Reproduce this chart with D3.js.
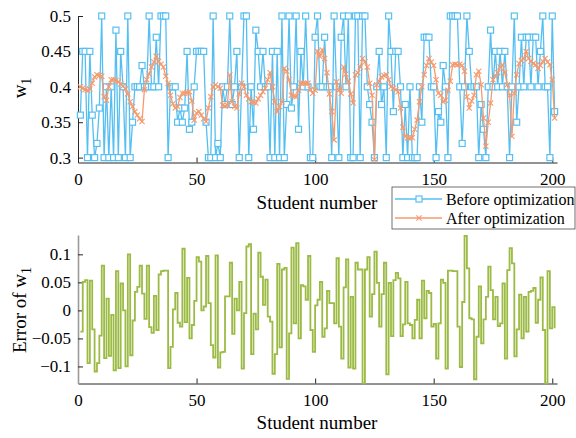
<!DOCTYPE html>
<html>
<head>
<meta charset="utf-8">
<script src="https://cdn.jsdelivr.net/npm/d3@7"></script>
<style>
  html, body { margin: 0; padding: 0; background: #fff; }
  svg text { font-family: "Liberation Serif", "Times New Roman", serif; fill: #000; }
</style>
</head>
<body>
<svg id="chart" width="576" height="438"></svg>
<script>
"use strict";

// w1 before optimization (student 1..201)
var beforeOpt = [
    0.36, 0.45, 0.45, 0.30, 0.45, 0.36, 0.30, 0.32, 0.37, 0.50,
    0.30, 0.40, 0.30, 0.40, 0.30, 0.48, 0.30, 0.45, 0.40, 0.30,
    0.50, 0.30, 0.35, 0.40, 0.40, 0.40, 0.43, 0.40, 0.40, 0.50,
    0.40, 0.40, 0.47, 0.40, 0.50, 0.50, 0.50, 0.30, 0.40, 0.40,
    0.40, 0.35, 0.37, 0.35, 0.37, 0.45, 0.34, 0.35, 0.40, 0.45,
    0.45, 0.45, 0.45, 0.35, 0.30, 0.30, 0.50, 0.30, 0.32, 0.30,
    0.40, 0.375, 0.40, 0.50, 0.375, 0.40, 0.45, 0.30, 0.40, 0.50,
    0.50, 0.30, 0.40, 0.34, 0.48, 0.45, 0.40, 0.45, 0.40, 0.40,
    0.30, 0.45, 0.30, 0.45, 0.30, 0.50, 0.30, 0.375, 0.50, 0.37,
    0.40, 0.50, 0.34, 0.45, 0.40, 0.50, 0.40, 0.30, 0.30, 0.47,
    0.50, 0.40, 0.40, 0.47, 0.40, 0.40, 0.30, 0.50, 0.40, 0.30,
    0.47, 0.50, 0.40, 0.50, 0.30, 0.30, 0.50, 0.50, 0.30, 0.50,
    0.50, 0.40, 0.375, 0.35, 0.30, 0.40, 0.45, 0.375, 0.40, 0.30,
    0.50, 0.45, 0.365, 0.45, 0.45, 0.40, 0.30, 0.375, 0.30, 0.40,
    0.30, 0.30, 0.30, 0.40, 0.35, 0.47, 0.47, 0.47, 0.40, 0.40,
    0.30, 0.365, 0.35, 0.43, 0.40, 0.30, 0.50, 0.50, 0.50, 0.50,
    0.40, 0.32, 0.40, 0.50, 0.45, 0.40, 0.40, 0.40, 0.30, 0.375,
    0.34, 0.30, 0.40, 0.48, 0.40, 0.45, 0.40, 0.45, 0.40, 0.45,
    0.40, 0.30, 0.40, 0.50, 0.35, 0.40, 0.47, 0.40, 0.47, 0.47,
    0.40, 0.47, 0.47, 0.40, 0.45, 0.50, 0.40, 0.40, 0.30, 0.50,
    0.365
];

// w1 after optimization
var afterOpt = [
    0.400, 0.398, 0.396, 0.395, 0.397, 0.405, 0.414, 0.417, 0.416, 0.415,
    0.386, 0.381, 0.400, 0.410, 0.410, 0.409, 0.407, 0.404, 0.401, 0.397,
    0.390, 0.379, 0.372, 0.365, 0.360, 0.355, 0.351, 0.396, 0.410, 0.418,
    0.428, 0.435, 0.443, 0.436, 0.432, 0.428, 0.415, 0.405, 0.388, 0.376,
    0.370, 0.372, 0.385, 0.391, 0.391, 0.392, 0.393, 0.380, 0.353, 0.363,
    0.365, 0.360, 0.355, 0.351, 0.370, 0.386, 0.400, 0.403, 0.400, 0.398,
    0.374, 0.373, 0.374, 0.417, 0.379, 0.372, 0.370, 0.390, 0.405, 0.400,
    0.388, 0.383, 0.379, 0.378, 0.377, 0.383, 0.388, 0.393, 0.398, 0.410,
    0.420, 0.400, 0.379, 0.365, 0.372, 0.379, 0.426, 0.422, 0.410, 0.388,
    0.387, 0.386, 0.395, 0.405, 0.405, 0.405, 0.405, 0.396, 0.391, 0.395,
    0.450, 0.443, 0.452, 0.440, 0.420, 0.390, 0.365, 0.325, 0.407, 0.395,
    0.391, 0.428, 0.418, 0.408, 0.390, 0.377, 0.417, 0.420, 0.428, 0.440,
    0.435, 0.428, 0.405, 0.388, 0.297, 0.403, 0.408, 0.414, 0.416, 0.417,
    0.410, 0.400, 0.398, 0.396, 0.393, 0.370, 0.343, 0.330, 0.328, 0.328,
    0.328, 0.340, 0.353, 0.379, 0.400, 0.417, 0.430, 0.440, 0.435, 0.430,
    0.410, 0.391, 0.388, 0.379, 0.381, 0.395, 0.408, 0.431, 0.432, 0.431,
    0.432, 0.430, 0.422, 0.386, 0.370, 0.380, 0.388, 0.417, 0.422, 0.403,
    0.356, 0.316, 0.350, 0.377, 0.410, 0.415, 0.420, 0.428, 0.431, 0.420,
    0.403, 0.388, 0.330, 0.391, 0.417, 0.433, 0.437, 0.440, 0.450, 0.440,
    0.436, 0.433, 0.431, 0.426, 0.430, 0.436, 0.440, 0.435, 0.431, 0.410,
    0.356
];

// error of w1
var errorW1 = [
    -0.038, 0.051, 0.054, -0.094, 0.053, -0.034, -0.109, -0.094, -0.045, 0.080,
    -0.085, 0.021, -0.081, -0.008, -0.107, 0.070, -0.103, 0.048, 0.000, -0.100,
    0.100, -0.080, -0.018, 0.033, 0.042, 0.080, 0.030, -0.015, 0.080, -0.030,
    -0.040, 0.026, -0.035, 0.064, 0.070, 0.071, 0.071, -0.103, -0.065, 0.002,
    0.031, -0.022, -0.029, 0.110, -0.021, 0.058, -0.050, -0.026, 0.017, 0.095,
    0.087, 0.000, 0.007, 0.097, 0.013, -0.062, -0.084, 0.098, -0.102, -0.075,
    -0.074, 0.025, 0.025, 0.085, -0.042, 0.021, 0.000, 0.051, -0.104, -0.005,
    0.114, 0.118, -0.078, -0.006, -0.034, 0.103, 0.060, 0.010, 0.055, -0.011,
    -0.020, -0.113, -0.078, 0.083, -0.066, 0.073, 0.076, -0.122, -0.041, 0.112,
    -0.023, 0.120, -0.050, 0.045, 0.043, 0.019, 0.097, -0.035, -0.074, 0.009,
    0.019, 0.051, -0.047, -0.032, 0.035, 0.013, 0.013, -0.023, 0.093, -0.029,
    -0.086, 0.041, 0.091, -0.102, 0.024, -0.104, 0.085, 0.073, 0.073, -0.130,
    0.073, 0.095, -0.011, 0.029, 0.105, 0.049, -0.029, 0.029, 0.085, -0.114,
    0.049, -0.046, 0.054, 0.067, 0.057, -0.046, -0.025, 0.051, -0.023, -0.026,
    -0.050, -0.017, 0.019, -0.050, 0.053, -0.014, 0.035, 0.031, -0.029, -0.024,
    -0.086, -0.023, 0.055, 0.049, -0.104, 0.071, 0.071, 0.070, 0.070, -0.029,
    -0.101, 0.015, 0.133, 0.075, -0.014, -0.016, -0.123, -0.047, 0.043, -0.059,
    -0.016, 0.024, 0.078, 0.036, -0.016, 0.024, -0.028, -0.023, 0.048, -0.086,
    0.072, 0.111, 0.084, -0.082, -0.034, 0.028, -0.050, 0.024, -0.038, 0.033,
    0.035, 0.040, -0.022, 0.019, 0.059, -0.035, -0.130, 0.070, -0.032, 0.006,
    -0.032
];

var xTicks = [0, 50, 100, 150, 200];
var topYTicks = [0.3, 0.35, 0.4, 0.45, 0.5];
var bottomYTicks = [-0.1, -0.05, 0, 0.05, 0.1];
var seriesNames = ["Before optimization", "After optimization"];

var blue = "#56bff2", orange = "#f59a6e", green = "#9cbb45", axisColor = "#262626";

var svg = d3.select("#chart");
var left = 78, right = 557;

var xScale = d3.scaleLinear().domain([0, 202]).range([left, right]);
var yTop = d3.scaleLinear().domain([0.2931, 0.5]).range([162.5, 16]);
var yBottom = d3.scaleLinear().domain([-0.1304, 0.1345]).range([383.5, 235]);

function fmt(d) { return d3.format("")(+d.toFixed(2)); }

function drawAxes(yScale, yTicks, yColor) {
    var r = yScale.range();
    var xAxis = svg.append("g")
        .attr("transform", "translate(0," + r[0] + ")")
        .call(d3.axisBottom(xScale).tickValues(xTicks)
            .tickSizeInner(-5).tickSizeOuter(0).tickPadding(10));
    xAxis.selectAll("text").style("font-size", "17px");
    xAxis.selectAll("line, path").attr("stroke", axisColor);

    var yAxis = svg.append("g")
        .attr("transform", "translate(" + left + ",0)")
        .call(d3.axisLeft(yScale).tickValues(yTicks).tickFormat(fmt)
            .tickSizeInner(-5).tickSizeOuter(0).tickPadding(7));
    yAxis.selectAll("text").style("font-size", "17px");
    yAxis.selectAll("line").attr("stroke", axisColor);
    yAxis.select(".domain").attr("stroke", yColor).attr("stroke-width", yColor === axisColor ? 1 : 1.6);
}

var ids = d3.range(1, beforeOpt.length + 1);

// top panel
drawAxes(yTop, topYTicks, axisColor);

var topLine = function (vals) {
    return d3.line().x(function (d, i) { return xScale(ids[i]); })
        .y(function (d) { return yTop(d); })(vals);
};

svg.append("path").attr("d", topLine(beforeOpt))
    .attr("fill", "none").attr("stroke", blue).attr("stroke-width", 1.3);
svg.append("g").selectAll("rect").data(beforeOpt).enter().append("rect")
    .attr("x", function (d, i) { return xScale(ids[i]) - 3; })
    .attr("y", function (d) { return yTop(d) - 3; })
    .attr("width", 6).attr("height", 6)
    .attr("fill", "#fff").attr("stroke", blue).attr("stroke-width", 1.2);

svg.append("path").attr("d", topLine(afterOpt))
    .attr("fill", "none").attr("stroke", orange).attr("stroke-width", 1.3);
svg.append("g").selectAll("path").data(afterOpt).enter().append("path")
    .attr("transform", function (d, i) { return "translate(" + xScale(ids[i]) + "," + yTop(d) + ")"; })
    .attr("d", "M-2.6,-2.6L2.6,2.6M-2.6,2.6L2.6,-2.6")
    .attr("stroke", orange).attr("stroke-width", 1.1);

svg.append("text").attr("x", 317).attr("y", 209).attr("text-anchor", "middle")
    .style("font-size", "19px").text("Student number");

var wLabel = svg.append("text").attr("transform", "translate(26,88) rotate(-90)")
    .attr("text-anchor", "middle").style("font-size", "19px");
wLabel.append("tspan").text("w");
wLabel.append("tspan").attr("dy", 5).style("font-size", "14px").text("1");

// bottom panel
drawAxes(yBottom, bottomYTicks, "#9a9a9a");

svg.append("path")
    .attr("d", d3.line().curve(d3.curveStepAfter)
        .x(function (d, i) { return xScale(ids[i]); })
        .y(function (d) { return yBottom(d); })(errorW1))
    .attr("fill", "none").attr("stroke", green).attr("stroke-width", 1.8);

svg.append("text").attr("x", 317).attr("y", 429).attr("text-anchor", "middle")
    .style("font-size", "19px").text("Student number");

var eLabel = svg.append("text").attr("transform", "translate(26,310) rotate(-90)")
    .attr("text-anchor", "middle").style("font-size", "19px");
eLabel.append("tspan").text("Error of w");
eLabel.append("tspan").attr("dy", 5).style("font-size", "14px").text("1");

// legend
var legend = svg.append("g").attr("transform", "translate(392,187)");
legend.append("rect").attr("width", 183).attr("height", 42)
    .attr("fill", "#fff").attr("stroke", "#4d4d4d").attr("stroke-width", 0.8);
var rows = legend.selectAll("g.row").data(seriesNames).enter().append("g")
    .attr("transform", function (d, i) { return "translate(0," + (12 + i * 19) + ")"; });
rows.append("line").attr("x1", 3).attr("x2", 50).attr("y1", 0).attr("y2", 0)
    .attr("stroke", function (d, i) { return i === 0 ? blue : orange; }).attr("stroke-width", 1.3);
rows.filter(function (d, i) { return i === 0; }).append("rect")
    .attr("x", 24).attr("y", -3).attr("width", 6).attr("height", 6)
    .attr("fill", "#fff").attr("stroke", blue).attr("stroke-width", 1.2);
rows.filter(function (d, i) { return i === 1; }).append("path")
    .attr("transform", "translate(27,0)")
    .attr("d", "M-2.6,-2.6L2.6,2.6M-2.6,2.6L2.6,-2.6")
    .attr("stroke", orange).attr("stroke-width", 1.1);
rows.append("text").attr("x", 54).attr("y", 5.5).style("font-size", "16px")
    .text(function (d) { return d; });
</script>
</body>
</html>
